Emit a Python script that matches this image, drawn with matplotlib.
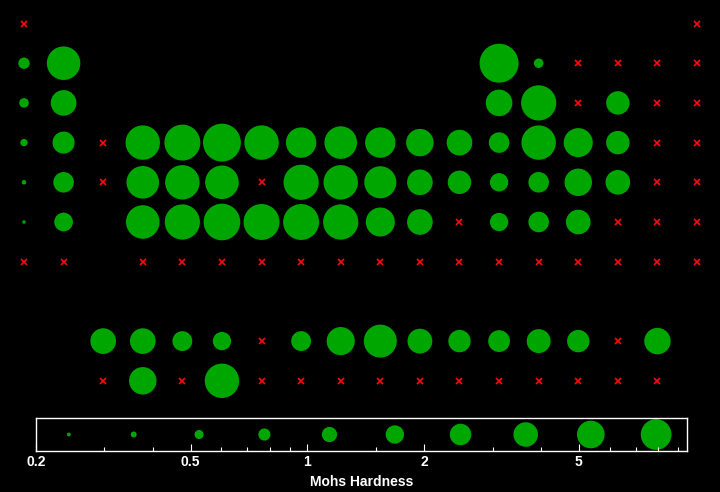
import numpy as np
import matplotlib
matplotlib.use('Agg')
import matplotlib.pyplot as plt
from matplotlib.ticker import NullFormatter

plt.rcParams['font.family'] = ['Liberation Sans', 'DejaVu Sans']

nan = np.nan
# Mohs hardness per period, one entry per group (1..18)
# None = no element in that cell, nan = no hardness data (red cross)
period1 = [nan] + [None]*16 + [nan]
period2 = [0.6, 5.5] + [None]*10 + [9.5, 0.5, nan, nan, nan, nan]
period3 = [0.5, 2.5] + [None]*10 + [2.75, 6.5, nan, 2.0, nan, nan]
period4 = [0.4, 1.75, nan, 6.0, 7.0, 8.5, 6.0, 4.0, 5.0, 4.0, 3.0, 2.5, 1.5, 6.0, 3.5, 2.0, nan, nan]
period5 = [0.3, 1.5, nan, 5.0, 6.0, 5.5, nan, 6.5, 6.0, 4.75, 2.5, 2.0, 1.2, 1.5, 3.0, 2.25, nan, nan]
period6 = [0.2, 1.25, None, 5.5, 6.5, 7.5, 7.0, 7.0, 6.5, 3.5, 2.5, nan, 1.2, 1.5, 2.25, nan, nan, nan]
period7 = [nan, nan, None] + [nan]*15
# f-block, groups 3..17
lanthanides = [2.5, 2.5, 1.4, 1.2, nan, 1.4, 3.2, 5.2, 2.3, 1.8, 1.7, 2.1, 1.8, nan, 2.7]
actinides = [nan, 3.0, nan, 6.0] + [nan]*11

# legend scale
legend_values = [0.243, 0.357, 0.526, 0.775, 1.14, 1.68, 2.48, 3.65, 5.37, 7.91]
major_ticks = [0.2, 0.5, 1, 2, 5]
major_labels = ['0.2', '0.5', '1', '2', '5']
minor_ticks = [0.3, 0.4, 0.6, 0.7, 0.8, 0.9, 1.5, 3, 4, 6, 7, 8, 9]

green = '#00a600'
red = '#ff0a0a'
px = 0.72  # points per pixel at dpi 100


def diam(v):
	# bubble diameter in pixels, grows with log of hardness
	return max(16.5 + 23*np.log10(v), 3.5)


cols, rows, vals = [], [], []
for r, row in enumerate([period1, period2, period3, period4, period5, period6, period7]):
	for c, v in enumerate(row):
		if v is None:
			continue
		cols.append(c + 1)
		rows.append(r + 1)
		vals.append(v)
for r, row in [(9, lanthanides), (10, actinides)]:
	for c, v in enumerate(row):
		cols.append(c + 3)
		rows.append(r)
		vals.append(v)

cols = np.array(cols, float)
rows = np.array(rows, float)
vals = np.array(vals, float)
has = ~np.isnan(vals)

fig = plt.figure(figsize=(7.2, 4.92), dpi=100, facecolor='black')

ax = fig.add_axes([0, 92/492, 1, 400/492])
ax.set_facecolor('black')
ax.set_xlim(1 - 24/39.59, 1 + 696/39.59)
ax.set_ylim(1 + 376.5/39.7, 1 - 23.5/39.7)
ax.axis('off')

sizes = np.array([(diam(v)*px)**2 for v in vals[has]])
ax.scatter(cols[has], rows[has], s=sizes, c=green, linewidths=0)
ax.plot(cols[~has], rows[~has], 'x', color=red, markersize=5.6*px, mew=1.7*px, linestyle='none')

# size legend
lax = fig.add_axes([36/720, 1 - 451/492, 651/720, 33/492])
lax.set_facecolor('black')
lax.set_xscale('log')
lax.set_xlim(0.2, 9.5)
lax.set_ylim(0, 1)
lsizes = [((0.8*diam(v) + 1)*px)**2 for v in legend_values]
lax.scatter(legend_values, [0.5]*len(legend_values), s=lsizes, c=green, linewidths=0)
for s in lax.spines.values():
	s.set_color('white')
	s.set_linewidth(1)
lax.set_yticks([])
lax.set_xticks(major_ticks)
lax.set_xticklabels(major_labels)
lax.set_xticks(minor_ticks, minor=True)
lax.xaxis.set_minor_formatter(NullFormatter())
lax.tick_params(axis='x', which='major', direction='in', length=5, width=0.8, color='white',
	labelcolor='white', labelsize=10, pad=3)
lax.tick_params(axis='x', which='minor', direction='in', length=3, width=0.8, color='white')
for lbl in lax.get_xticklabels():
	lbl.set_fontweight('bold')
lax.set_xlabel('Mohs Hardness', color='white', fontsize=10, fontweight='bold', labelpad=4)

fig.savefig('out.png', dpi=100, facecolor='black')
